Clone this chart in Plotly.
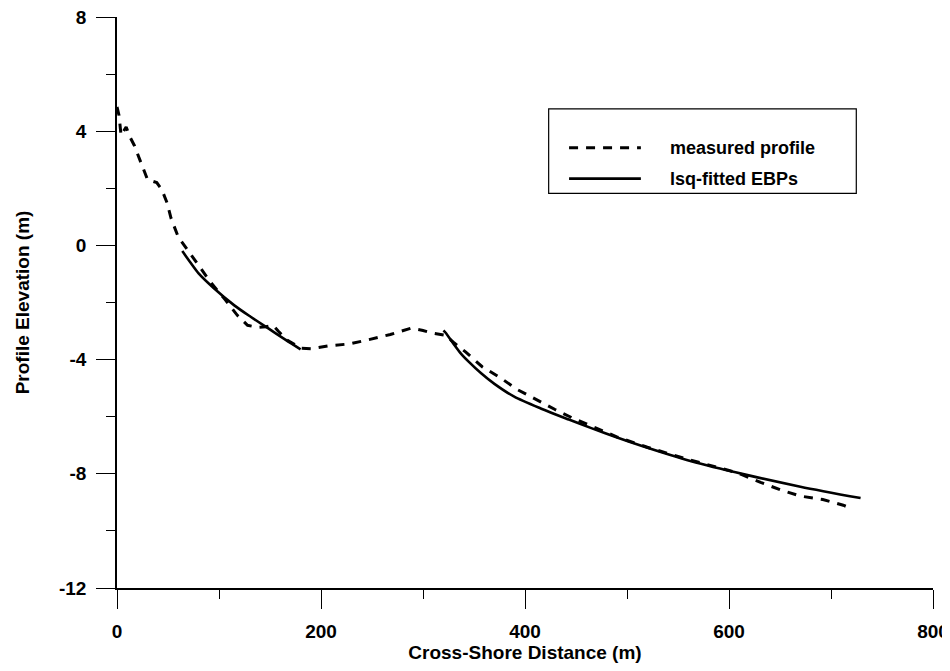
import plotly.graph_objects as go

# Measured profile (dashed)
measured_x = [0, 2, 4, 9, 12, 17, 24, 30, 39, 44, 49, 53, 60, 66, 72, 80, 92, 106, 118, 128,
              138, 146, 153, 158, 166, 180, 190, 207, 228, 247, 268, 288, 300, 310, 322, 330,
              342, 358, 376, 392, 411, 429, 448, 467, 491, 520, 560, 600, 612, 631, 651, 670,
              692, 712, 720]
measured_y = [4.85, 4.55, 3.85, 4.15, 3.85, 3.5, 2.85, 2.3, 2.2, 1.95, 1.5, 0.95, 0.3, 0.0,
              -0.3, -0.7, -1.3, -1.9, -2.45, -2.8, -2.87, -2.85, -2.8, -3.0, -3.3, -3.6,
              -3.62, -3.52, -3.45, -3.3, -3.12, -2.9, -2.98, -3.08, -3.15, -3.4, -3.74,
              -4.25, -4.64, -5.04, -5.41, -5.74, -6.07, -6.35, -6.72, -7.07, -7.5, -7.88,
              -8.02, -8.3, -8.57, -8.78, -8.9, -9.1, -9.22]

# Least-squares fitted EBPs (solid), two segments
fit1_x = [64, 72, 80, 95, 115, 131, 148, 165, 180]
fit1_y = [-0.2, -0.6, -0.98, -1.5, -2.1, -2.5, -2.9, -3.3, -3.64]
fit2_x = [320, 322, 330, 337, 345, 357, 370, 389, 416, 443, 465, 491, 514, 563, 615, 670, 729]
fit2_y = [-2.98, -3.05, -3.45, -3.78, -4.08, -4.48, -4.85, -5.29, -5.72, -6.10, -6.40, -6.74,
          -7.02, -7.56, -8.02, -8.45, -8.85]

x_ticks = [0, 200, 400, 600, 800]
y_ticks = [-12, -8, -4, 0, 4, 8]

FONT = "Liberation Sans, Arial, sans-serif"
DASH = "9px,8px"

fig = go.Figure()
fig.add_trace(go.Scatter(x=measured_x, y=measured_y, mode="lines", name="measured profile",
                         line=dict(color="black", width=3, dash=DASH)))
fig.add_trace(go.Scatter(x=fit1_x, y=fit1_y, mode="lines", name="lsq-fitted EBPs",
                         line=dict(color="black", width=2.6, shape="spline", smoothing=0.8)))
fig.add_trace(go.Scatter(x=fit2_x, y=fit2_y, mode="lines", name="lsq-fitted EBPs",
                         line=dict(color="black", width=2.6, shape="spline", smoothing=0.8),
                         showlegend=False))

axis_common = dict(
    showline=True, linecolor="black", linewidth=1.5, showgrid=False, zeroline=False,
    ticks="outside", ticklen=19, tickwidth=1.2, tickcolor="black", automargin=False,
    ticklabeloverflow="allow",
    tickfont=dict(family=FONT, size=19, color="black", weight="bold"),
)

fig.update_xaxes(range=[0, 800], tickvals=x_ticks, ticktext=[str(v) for v in x_ticks],
                 minor=dict(ticks="outside", ticklen=9, tickvals=[100, 300, 500, 700],
                            tickcolor="black", tickwidth=1.2),
                 ticklabelstandoff=6,
                 title=dict(text="<b>Cross-Shore Distance (m)</b>", standoff=4,
                            font=dict(family=FONT, size=19, color="black")),
                 **axis_common)
fig.update_yaxes(range=[-12, 8], tickvals=y_ticks, ticktext=[str(v) for v in y_ticks],
                 minor=dict(ticks="outside", ticklen=9, tickvals=[-10, -6, -2, 2, 6],
                            tickcolor="black", tickwidth=1.2),
                 ticklabelstandoff=6,
                 title=dict(text="<b>Profile Elevation (m)</b>", standoff=24,
                            font=dict(family=FONT, size=19, color="black")),
                 **axis_common)

# Manual legend box matching the reference layout
fig.add_shape(type="rect", xref="paper", yref="paper", x0=0.529, x1=0.906, y0=0.691, y1=0.839,
              line=dict(color="black", width=1.2), fillcolor="white", layer="below")
fig.add_shape(type="line", xref="paper", yref="paper", x0=0.554, x1=0.642, y0=0.771, y1=0.771,
              line=dict(color="black", width=3, dash=DASH))
fig.add_shape(type="line", xref="paper", yref="paper", x0=0.554, x1=0.642, y0=0.717, y1=0.717,
              line=dict(color="black", width=2.6))
fig.add_annotation(xref="paper", yref="paper", x=0.675, y=0.771, xanchor="left", yanchor="middle",
                   text="<b>measured profile</b>", showarrow=False,
                   font=dict(family=FONT, size=18, color="black"))
fig.add_annotation(xref="paper", yref="paper", x=0.675, y=0.717, xanchor="left", yanchor="middle",
                   text="<b>lsq-fitted EBPs</b>", showarrow=False,
                   font=dict(family=FONT, size=18, color="black"))

fig.update_layout(
    width=941, height=655,
    margin=dict(l=109, r=16, t=9, b=75),
    paper_bgcolor="white", plot_bgcolor="white",
    showlegend=False,
    font=dict(family=FONT, color="black"),
)

fig.write_html("out.html")
